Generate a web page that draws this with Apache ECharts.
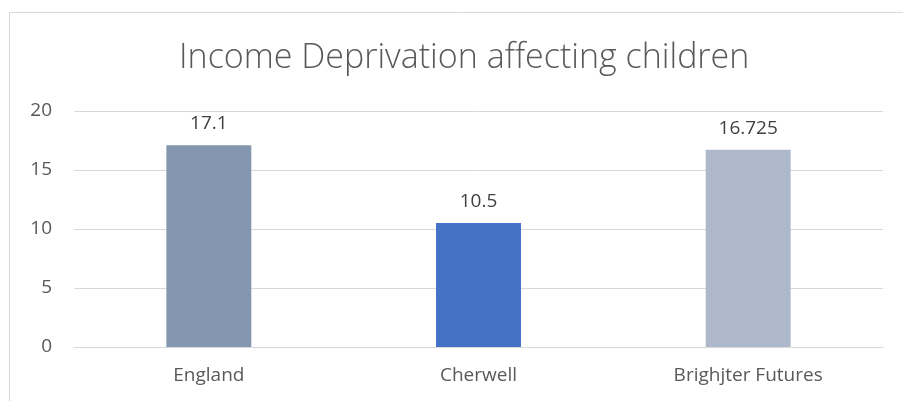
<!DOCTYPE html>
<html>
<head>
<meta charset="utf-8">
<script src="https://cdn.jsdelivr.net/npm/echarts@6/dist/echarts.min.js"></script>
<style>
  html, body { margin: 0; padding: 0; background: #fff; }
  #main { width: 903px; height: 401px; }
</style>
</head>
<body>
<div id="main"></div>
<script>
// chart data
const categories = ['England', 'Cherwell', 'Brighjter Futures'];
const values = [17.1, 10.5, 16.725];
const barColors = ['#8497B0', '#4472C4', '#ADB9CA'];
const yTicks = [0, 5, 10, 15, 20];

const chart = echarts.init(document.getElementById('main'));

const option = {
    animation: false,
    textStyle: { fontFamily: 'Open Sans' },
    title: {
        text: 'Income Deprivation affecting children',
        left: 174,
        top: 36,
        textStyle: {
            fontFamily: 'Open Sans',
            fontWeight: 300,
            fontSize: 34,
            color: '#595959'
        }
    },
    graphic: [{
        type: 'polyline',
        shape: { points: [[9.5, 401], [9.5, 12.5], [903, 12.5]] },
        style: { stroke: '#d9d9d9', lineWidth: 1, fill: null }
    }],
    grid: { left: 74, right: 20, top: 111, bottom: 54 },
    xAxis: {
        type: 'category',
        data: categories,
        axisTick: { show: false },
        axisLine: { lineStyle: { color: '#d9d9d9' } },
        axisLabel: { color: '#595959', fontSize: 19, margin: 19 }
    },
    yAxis: {
        type: 'value',
        min: yTicks[0],
        max: yTicks[yTicks.length - 1],
        interval: 5,
        axisLine: { show: false },
        axisTick: { show: false },
        splitLine: { lineStyle: { color: '#d9d9d9' } },
        axisLabel: { color: '#595959', fontSize: 19, margin: 22 }
    },
    series: [{
        type: 'bar',
        barWidth: '31.5%',
        data: values.map((v, i) => ({ value: v, itemStyle: { color: barColors[i] } })),
        label: {
            show: true,
            position: 'top',
            distance: 12,
            color: '#404040',
            fontSize: 19
        }
    }]
};

chart.setOption(option);
</script>
</body>
</html>
